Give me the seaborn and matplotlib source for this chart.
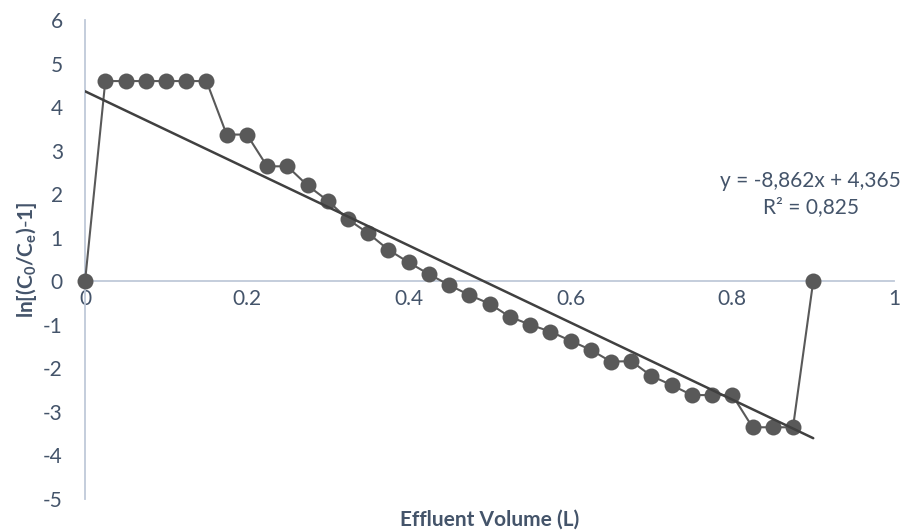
import pandas as pd
import matplotlib.pyplot as plt
import seaborn as sns

# Breakthrough data, linearised (Thomas-type plot)
volume = [0.0, 0.025, 0.05, 0.075, 0.1, 0.125, 0.15, 0.175, 0.2, 0.225,
          0.25, 0.275, 0.3, 0.325, 0.35, 0.375, 0.4, 0.425, 0.45, 0.475,
          0.5, 0.525, 0.55, 0.575, 0.6, 0.625, 0.65, 0.675, 0.7, 0.725,
          0.75, 0.775, 0.8, 0.825, 0.85, 0.875, 0.9]
ln_ratio = [0.0, 4.6, 4.6, 4.6, 4.6, 4.6, 4.6, 3.37, 3.37, 2.64,
            2.64, 2.2, 1.85, 1.42, 1.10, 0.72, 0.43, 0.16, -0.09, -0.32,
            -0.52, -0.82, -1.0, -1.16, -1.37, -1.58, -1.85, -1.84, -2.18, -2.39,
            -2.62, -2.62, -2.62, -3.36, -3.36, -3.36, 0.0]

# linear trendline reported on the chart
slope = -8.862
intercept = 4.365
r_squared = 0.825
trend_x = [0.0, 0.9]

x_ticks = [0, 0.2, 0.4, 0.6, 0.8, 1]
x_tick_labels = ["0", "0.2", "0.4", "0.6", "0.8", "1"]
y_ticks = [-5, -4, -3, -2, -1, 0, 1, 2, 3, 4, 5, 6]

TEXT = "#44546A"
AXIS = "#BFC9D9"
POINT = "#595959"

sns.set_style("white")
plt.rcParams["font.family"] = ["Lato", "DejaVu Sans"]
plt.rcParams["axes.unicode_minus"] = False
plt.rcParams["mathtext.fontset"] = "custom"
plt.rcParams["mathtext.rm"] = "Lato"
plt.rcParams["mathtext.bf"] = "Lato:bold"

df = pd.DataFrame({"volume": volume, "ln_ratio": ln_ratio})
trend = pd.DataFrame({"x": trend_x, "y": [slope * v + intercept for v in trend_x]})

fig = plt.figure(figsize=(9.05, 5.31), dpi=100)
ax = fig.add_axes([0.094, 0.061, 0.894, 0.901])

sns.lineplot(data=df, x="volume", y="ln_ratio", ax=ax, sort=False, estimator=None,
             color=POINT, linewidth=1.5, marker="o", markersize=11.5,
             markeredgewidth=0, zorder=3, clip_on=False)
sns.lineplot(data=trend, x="x", y="y", ax=ax, color="#404040", linewidth=1.8, zorder=4)

ax.set_xlim(0, 1)
ax.set_ylim(-5, 6)
ax.set_xticks(x_ticks)
ax.set_xticklabels(x_tick_labels)
ax.set_yticks(y_ticks)

# Excel-style crossing axes at zero
for side in ["top", "right"]:
    ax.spines[side].set_visible(False)
ax.spines["left"].set_position(("data", 0))
ax.spines["bottom"].set_position(("data", 0))
for side in ["left", "bottom"]:
    ax.spines[side].set_color(AXIS)
    ax.spines[side].set_linewidth(1.3)
    ax.spines[side].set_zorder(1)

ax.tick_params(axis="both", length=0, labelsize=15, labelcolor=TEXT)
ax.tick_params(axis="x", pad=6)
ax.tick_params(axis="y", pad=16)

ax.set_xlabel("Effluent Volume (L)", fontsize=15, fontweight="bold", color=TEXT)
ax.xaxis.set_label_coords(0.5, -0.024)
ax.set_ylabel(r"$\mathbf{ln[(C_0/C_e)\text{-}1]}$", fontsize=15, color=TEXT, labelpad=3)

ax.text(0.897, 2.0,
        f"y = {slope:.3f}x + {intercept:.3f}".replace(".", ",")
        + "\n" + f"R² = {r_squared:.3f}".replace(".", ","),
        ha="center", va="center", fontsize=15, color=TEXT, linespacing=1.35)

plt.savefig("out.png", dpi=100)
plt.close()
